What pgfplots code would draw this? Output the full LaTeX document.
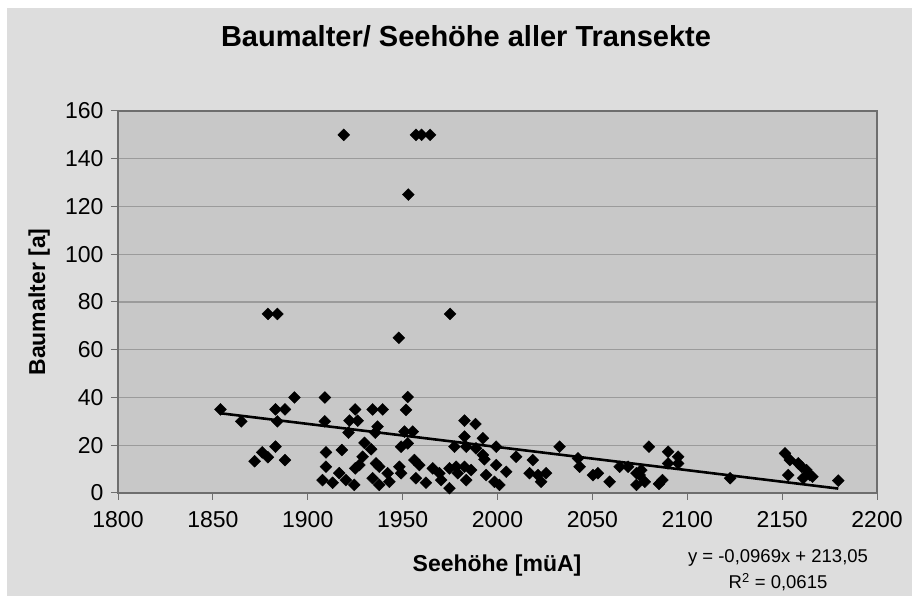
\documentclass[border=0pt]{standalone}
\usepackage{pgfplots}
\pgfplotsset{compat=1.18}
\usepackage{fontspec}
\setmainfont{Liberation Sans}
\definecolor{outerbg}{RGB}{221,221,221}
\definecolor{plotbg}{RGB}{200,200,200}
\definecolor{gridc}{RGB}{155,155,155}
\definecolor{axc}{RGB}{110,110,110}
\begin{document}
\begin{tikzpicture}[x=1pt,y=1pt]
\useasboundingbox (0,0) rectangle (912,596);
\fill[white] (0,0) rectangle (912,596);
\fill[outerbg] (7,0) rectangle (912,588);
\begin{axis}[
  at={(118pt,103pt)}, anchor=south west,
  scale only axis, width=759pt, height=382pt,
  xmin=1800, xmax=2200, ymin=0, ymax=160,
  xtick distance=50, ytick distance=20,
  axis background/.style={fill=plotbg},
  axis line style={draw=axc, line width=1.3pt},
  ymajorgrids, grid style={draw=gridc, line width=1.1pt},
  tick align=outside, major tick length=7pt,
  tick style={draw=axc, line width=1pt},
  xtick pos=bottom, ytick pos=left,
  /pgf/number format/assume math mode=true,
  /pgf/number format/1000 sep={},
  ticklabel style={font=\fontsize{23}{26}\selectfont},
  xticklabel style={yshift=-8pt},
  yticklabel style={xshift=-4pt},
  clip=false,
]
\addplot[only marks, mark=square*, mark size=4.2pt, mark options={rotate=45, fill=black, draw=black}] coordinates {
(1919,150)(1957,150)(1960,150)(1964.5,150)(1953,125)
(1879,75)(1884,75)(1975,75)(1948,65)
(1854,35)(1865,30)(1883,35)(1888,35)(1893,40)(1909,40)(1884,30)(1883,19.4)(1876,17)(1879,15)(1872,13.3)(1888,13.8)
(1909,30)(1909.6,17)(1918,18)(1909.6,11)(1925,35)(1922,30.3)(1921.5,25.3)(1925,10.3)
(1907.8,5.4)(1913.1,4.3)(1916.6,8.3)(1920.1,5.4)(1924.5,3.4)
(1952.7,40.2)(1951.8,34.8)(1934.2,35)(1939.5,35)(1926.3,30.3)(1936.8,27.8)(1935.6,25.3)
(1951,25.7)(1955.3,25.7)(1949.2,19.4)(1952.7,20.8)(1929.9,21)(1933.4,18.3)(1928.9,15.2)(1927.2,11.7)
(1936,12.4)(1937.7,11)(1934.2,6.2)(1937.7,3.4)(1942.1,8.3)(1943,4.7)(1948.3,11)(1949.2,8.3)
(1956.2,13.8)(1958.8,11.7)(1957,6.2)(1962.3,4.3)(1965.9,10.3)(1969.4,8.3)(1970.3,5.4)(1974.7,2.0)
(1974.7,10.3)(1978.2,11)(1979,8.3)(1982.6,11)(1983.5,5.4)(1986.1,9.6)(1982.6,30.3)(1988.4,28.9)
(1977.3,19.4)(1982.6,23.6)(1983.5,19.4)(1992.3,22.9)(1988.7,18.7)(1992.3,15.9)(1993.1,14.1)
(1994,7.5)(1998.4,4.7)(1999.3,11.7)(1999.3,19.4)
(2004.6,8.9)(2001,3.4)(2009.8,15.2)(2018.6,13.8)(2016.9,8.3)(2021.3,7.5)(2023,4.7)(2025.6,8.3)
(2032.7,19.4)(2042.4,14.5)(2043.3,11)(2050.3,7.5)(2052.9,8.3)(2059.1,4.7)(2064.4,11)(2068.8,11)
(2073.2,8.3)(2073.2,3.4)
(2079.8,19.4)(2075.8,9.6)(2074.9,7.5)(2077.6,4.7)(2085.1,3.8)(2086.9,5.4)(2089.9,17.3)(2089.9,12.4)
(2095.2,15.2)(2095.2,12.4)(2122.6,6.2)
(2151.5,16.6)(2154.1,13.8)(2158.5,12.4)(2160.2,11)(2162.8,9.6)(2164.6,7.5)(2153.2,7.5)(2161.1,6.2)(2166,6.8)
(2179.6,5.2)
};
\addplot[black, line width=2.6pt] coordinates {(1854.2,33.38)(2179.6,1.85)};
\end{axis}
\node[anchor=base, font=\fontsize{29}{34}\selectfont\bfseries] at (466,549) {Baumalter/ Seehöhe aller Transekte};
\node[anchor=base, font=\fontsize{23}{27}\selectfont\bfseries] at (497,24) {Seehöhe [müA]};
\node[anchor=base, rotate=90, font=\fontsize{23}{27}\selectfont\bfseries] at (45,294) {Baumalter [a]};
\node[anchor=base, font=\fontsize{18.5}{22}\selectfont] at (778,33) {y = -0,0969x + 213,05};
\node[anchor=base, font=\fontsize{18.5}{22}\selectfont] at (778,7) {R\textsuperscript{2} = 0,0615};
\end{tikzpicture}
\end{document}
